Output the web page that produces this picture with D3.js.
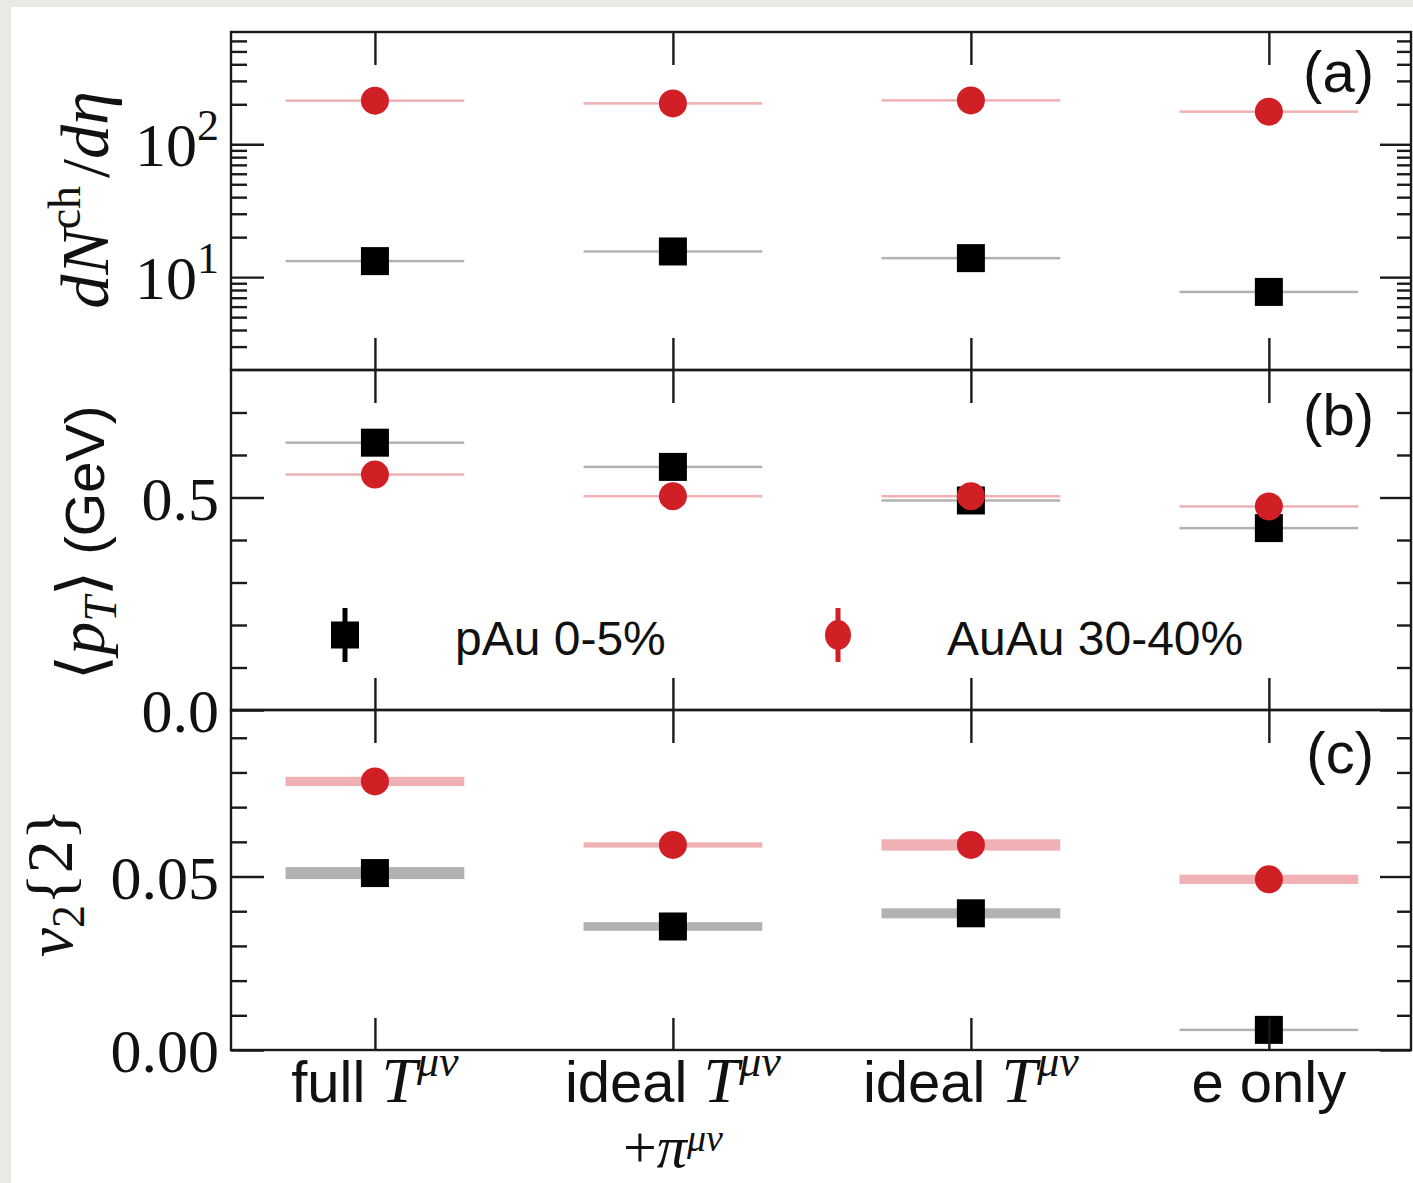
<!DOCTYPE html>
<html><head><meta charset="utf-8">
<script src="https://cdn.jsdelivr.net/npm/d3@7"></script>
<style>
html,body{margin:0;padding:0;background:#e9eae5;}
svg{display:block;}
</style></head><body>
<svg id="chart" width="1413" height="1183"></svg>
<script>
// ---------------- data ----------------
const categories = ["full", "ideal", "ideal", "e only"];
const categoryMath = ["T", "T", "T", ""];
const categorySup = ["μν", "μν", "μν", ""];
const categoryLine2 = ["", "+π", "", ""];
const seriesNames = ["pAu 0-5%", "AuAu 30-40%"];

const dNdeta_pAu = [13.2, 15.6, 13.9, 7.74];
const dNdeta_AuAu = [213, 203, 214, 176];
const dNdeta_pAu_err = [0.12, 0.14, 0.12, 0.07];
const dNdeta_AuAu_err = [1.9, 1.8, 1.9, 1.6];

const meanPt_pAu = [0.629, 0.572, 0.493, 0.428];
const meanPt_AuAu = [0.554, 0.503, 0.503, 0.479];
const meanPt_pAu_err = [0.002, 0.002, 0.002, 0.002];
const meanPt_AuAu_err = [0.002, 0.002, 0.002, 0.002];

const v2_pAu = [0.0510, 0.0356, 0.0394, 0.0058];
const v2_AuAu = [0.0774, 0.0591, 0.0591, 0.0492];
const v2_pAu_err = [0.00173, 0.00125, 0.00144, 0.00036];
const v2_AuAu_err = [0.00134, 0.00076, 0.00163, 0.00134];

const dNdetaMajorTicks = [10, 100];
const dNdetaTickExp = ["1", "2"];
const dNdetaMinorTicks = [3, 4, 5, 6, 7, 8, 9, 20, 30, 40, 50, 60, 70, 80, 90, 200, 300, 400, 500, 600];
const meanPtMajorTicks = [0.0, 0.5];
const meanPtTickLabels = ["0.0", "0.5"];
const meanPtMinorTicks = [0.1, 0.2, 0.3, 0.4, 0.6, 0.7];
const v2MajorTicks = [0.00, 0.05];
const v2TickLabels = ["0.00", "0.05"];
const v2MinorTicks = [0.01, 0.02, 0.03, 0.04, 0.06, 0.07, 0.08, 0.09];

// ---------------- layout ----------------
const svg = d3.select("#chart");
const L = 231, R = 1411;
const RED = "#d11f26";
const SERIF = "'Liberation Serif','DejaVu Serif',serif";
const SANS = "'Liberation Sans',Arial,sans-serif";

svg.append("rect").attr("x", 11).attr("y", 7).attr("width", 1413 - 11).attr("height", 1183 - 7).attr("fill", "#ffffff");

const x = d3.scaleLinear().domain([-0.483, 3.477]).range([L, R]);
const idx = d3.range(categories.length);

const panels = [
  {top: 32, bottom: 370, y: d3.scaleLog().domain([2, 700]).range([370, 32]),
   pAu: dNdeta_pAu, AuAu: dNdeta_AuAu, pErr: dNdeta_pAu_err, aErr: dNdeta_AuAu_err,
   major: dNdetaMajorTicks, minor: dNdetaMinorTicks, tag: "(a)"},
  {top: 370, bottom: 710, y: d3.scaleLinear().domain([0, 0.8]).range([710, 370]),
   pAu: meanPt_pAu, AuAu: meanPt_AuAu, pErr: meanPt_pAu_err, aErr: meanPt_AuAu_err,
   major: meanPtMajorTicks, minor: meanPtMinorTicks, tag: "(b)"},
  {top: 710, bottom: 1050, y: d3.scaleLinear().domain([0, 0.098]).range([1050, 710]),
   pAu: v2_pAu, AuAu: v2_AuAu, pErr: v2_pAu_err, aErr: v2_AuAu_err,
   major: v2MajorTicks, minor: v2MinorTicks, tag: "(c)"}
];

const halfW = 0.3;

panels.forEach((p, pi) => {
  const g = svg.append("g");
  const y = p.y;
  const band = (vals, errs, color, op) => {
    g.selectAll(null).data(idx).enter().append("rect")
      .attr("x", i => x(i - halfW))
      .attr("width", i => x(i + halfW) - x(i - halfW))
      .attr("y", i => {
        const h = y(vals[i] - errs[i]) - y(vals[i] + errs[i]);
        return h < 2.5 ? y(vals[i]) - 1.25 : y(vals[i] + errs[i]);
      })
      .attr("height", i => Math.max(2.5, y(vals[i] - errs[i]) - y(vals[i] + errs[i])))
      .attr("fill", color).attr("fill-opacity", op);
  };
  band(p.pAu, p.pErr, "#000000", 0.3);
  band(p.AuAu, p.aErr, RED, 0.35);
  g.selectAll(null).data(idx).enter().append("rect")
    .attr("x", i => x(i) - 14).attr("y", i => y(p.pAu[i]) - 14)
    .attr("width", 28).attr("height", 28).attr("fill", "#000");
  g.selectAll(null).data(idx).enter().append("circle")
    .attr("cx", i => x(i)).attr("cy", i => y(p.AuAu[i])).attr("r", 14).attr("fill", RED);

  const tickStyle = sel => {
    sel.select(".domain").remove();
    sel.attr("color", "#1a1a1a");
    sel.selectAll("line").attr("stroke-width", 2.4);
  };
  svg.append("g").attr("transform", `translate(${L},0)`)
    .call(d3.axisLeft(y).tickValues(p.major).tickSize(-33).tickFormat(() => "")).call(tickStyle);
  svg.append("g").attr("transform", `translate(${L},0)`)
    .call(d3.axisLeft(y).tickValues(p.minor).tickSize(-16).tickFormat(() => "")).call(tickStyle);
  svg.append("g").attr("transform", `translate(${R},0)`)
    .call(d3.axisRight(y).tickValues(p.major).tickSize(-31).tickFormat(() => "")).call(tickStyle);
  svg.append("g").attr("transform", `translate(${R},0)`)
    .call(d3.axisRight(y).tickValues(p.minor).tickSize(-14).tickFormat(() => "")).call(tickStyle);
  svg.append("g").attr("transform", `translate(0,${p.top})`)
    .call(d3.axisTop(x).tickValues(idx).tickSize(-33).tickFormat(() => "")).call(tickStyle);
  svg.append("g").attr("transform", `translate(0,${p.bottom})`)
    .call(d3.axisBottom(x).tickValues(idx).tickSize(-32).tickFormat(() => "")).call(tickStyle);

  svg.append("rect").attr("x", L).attr("y", p.top).attr("width", R - L).attr("height", p.bottom - p.top)
    .attr("fill", "none").attr("stroke", "#1a1a1a").attr("stroke-width", 2.4);

  svg.append("text").attr("x", 1374).attr("y", [92, 435, 773][pi])
    .attr("text-anchor", "end").attr("font-family", SANS).attr("font-size", 58).attr("fill", "#111")
    .text(p.tag);
});

// tick labels
const tl = (yy, txt) => svg.append("text").attr("x", 219).attr("y", yy + 22)
  .attr("text-anchor", "end").attr("font-family", SERIF).attr("font-size", 62).attr("fill", "#111").text(txt);
dNdetaMajorTicks.forEach((v, i) => {
  const t = tl(panels[0].y(v), "10");
  t.append("tspan").attr("font-size", 44).attr("dy", -26).text(dNdetaTickExp[i]);
});
meanPtMajorTicks.forEach((v, i) => tl(panels[1].y(v), meanPtTickLabels[i]));
v2MajorTicks.forEach((v, i) => tl(panels[2].y(v), v2TickLabels[i]));

// y axis titles
const ya = svg.append("text").attr("transform", "translate(108,200) rotate(-90)")
  .attr("text-anchor", "middle").attr("font-family", SERIF).attr("font-size", 68).attr("fill", "#111");
ya.append("tspan").attr("font-style", "italic").text("dN");
ya.append("tspan").attr("font-size", 46).attr("dy", -28).text("ch");
ya.append("tspan").attr("dy", 28).attr("dx", 8).text("/");
ya.append("tspan").attr("font-style", "italic").text("dη");

const yb = svg.append("text").attr("transform", "translate(104,543) rotate(-90)")
  .attr("text-anchor", "middle").attr("font-family", SERIF).attr("font-size", 66).attr("fill", "#111");
yb.append("tspan").text("⟨");
yb.append("tspan").attr("font-style", "italic").text("p");
yb.append("tspan").attr("font-style", "italic").attr("font-size", 46).attr("dy", 12).text("T");
yb.append("tspan").attr("dy", -12).text("⟩");
yb.append("tspan").attr("font-family", SANS).attr("font-size", 56).text(" (GeV)");

const yc = svg.append("text").attr("transform", "translate(72,883) rotate(-90)")
  .attr("text-anchor", "middle").attr("font-family", SERIF).attr("font-size", 66).attr("fill", "#111");
yc.append("tspan").attr("font-style", "italic").text("v");
yc.append("tspan").attr("font-size", 46).attr("dy", 12).text("2");
yc.append("tspan").attr("dy", -12).text("{2}");

// category labels
idx.forEach(i => {
  const t = svg.append("text").attr("x", x(i)).attr("y", 1102).attr("text-anchor", "middle")
    .attr("font-family", SANS).attr("font-size", 58).attr("fill", "#111");
  t.append("tspan").text(categories[i] + (categoryMath[i] ? " " : ""));
  if (categoryMath[i]) {
    t.append("tspan").attr("font-family", SERIF).attr("font-style", "italic").attr("font-size", 64).text(categoryMath[i]);
    t.append("tspan").attr("font-family", SERIF).attr("font-style", "italic").attr("font-size", 44).attr("dy", -26).text(categorySup[i]);
  }
  if (categoryLine2[i]) {
    const t2 = svg.append("text").attr("x", x(i)).attr("y", 1167).attr("text-anchor", "middle")
      .attr("font-family", SERIF).attr("font-size", 60).attr("fill", "#111");
    t2.append("tspan").text(categoryLine2[i][0]);
    t2.append("tspan").attr("font-style", "italic").text(categoryLine2[i].slice(1));
    t2.append("tspan").attr("font-style", "italic").attr("font-size", 38).attr("dy", -16).text(categorySup[i]);
  }
});

// legend
const lg = svg.append("g");
const legX = [345, 838], legTextX = [455, 947], legY = 635;
lg.append("rect").attr("x", legX[0] - 2.5).attr("y", legY - 27).attr("width", 5).attr("height", 54).attr("fill", "#000");
lg.append("rect").attr("x", legX[0] - 14).attr("y", legY - 13.5).attr("width", 28).attr("height", 27).attr("fill", "#000");
lg.append("rect").attr("x", legX[1] - 2.5).attr("y", legY - 27).attr("width", 5).attr("height", 54).attr("fill", RED);
lg.append("ellipse").attr("cx", legX[1]).attr("cy", legY).attr("rx", 13).attr("ry", 15).attr("fill", RED);
seriesNames.forEach((s, i) => lg.append("text").attr("x", legTextX[i]).attr("y", 655)
  .attr("font-family", SANS).attr("font-size", 48).attr("fill", "#111").text(s));
</script>
</body></html>
